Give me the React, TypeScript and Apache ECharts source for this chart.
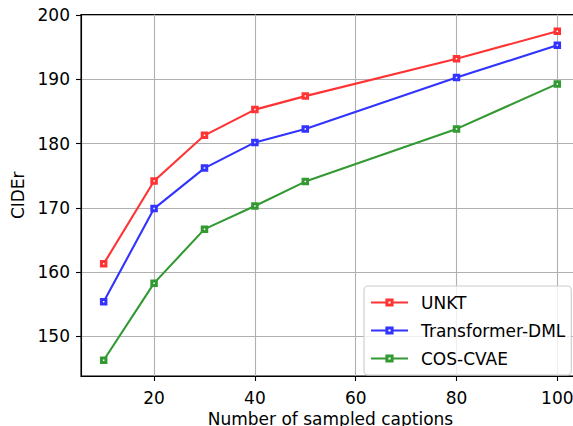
import React, { useEffect, useRef } from "react";
import * as echarts from "echarts";

const xValues = [10, 20, 30, 40, 50, 80, 100];
const unkt = [161.3, 174.2, 181.3, 185.3, 187.4, 193.2, 197.5];
const transformerDml = [155.4, 169.9, 176.2, 180.2, 182.3, 190.3, 195.3];
const cosCvae = [146.3, 158.3, 166.7, 170.3, 174.1, 182.3, 189.3];
const xTicks = [20, 40, 60, 80, 100];
const yTicks = [150, 160, 170, 180, 190, 200];
const seriesNames = ["UNKT", "Transformer-DML", "COS-CVAE"];
const seriesColors = ["#ff3333", "#3333ff", "#339933"];

const FONT = "DejaVu Sans";
const FS = 17;

export default function App() {
  const ref = useRef<HTMLDivElement>(null);
  useEffect(() => {
    if (!ref.current) return;
    document.body.style.margin = "0";
    const chart = echarts.init(ref.current, null, { renderer: "svg" });
    const allData = [unkt, transformerDml, cosCvae];
    const series = allData.map((vals, i) => ({
      name: seriesNames[i],
      type: "line",
      data: xValues.map((x, j) => [x, vals[j]]),
      symbol: "rect",
      symbolSize: 4.5,
      showSymbol: true,
      lineStyle: { color: seriesColors[i], width: 2.1 },
      itemStyle: { color: "#ffffff", borderColor: seriesColors[i], borderWidth: 3 },
      color: seriesColors[i],
      z: 3,
    }));
    chart.setOption({
      animation: false,
      backgroundColor: "#ffffff",
      textStyle: { fontFamily: FONT },
      grid: {
        left: 81,
        top: 14.5,
        width: 499,
        height: 361.5,
        show: true,
        borderColor: "#000000",
        borderWidth: 1.1,
        backgroundColor: "transparent",
        containLabel: false,
        outerBoundsMode: "none",
      },
      xAxis: {
        type: "value",
        min: 5.5,
        max: 104.5,
        name: "Number of sampled captions",
        nameLocation: "middle",
        nameGap: 32,
        nameTextStyle: { fontSize: FS, color: "#000", fontFamily: FONT },
        axisLine: { show: true, lineStyle: { color: "#000", width: 1.1 } },
        axisTick: { show: true, customValues: xTicks, length: 5, lineStyle: { color: "#000", width: 1.1 } },
        axisLabel: { customValues: xTicks, fontSize: FS, color: "#000", fontFamily: FONT, margin: 13 },
        splitLine: { show: true, lineStyle: { color: "#b0b0b0", width: 1.1 } },
      },
      yAxis: {
        type: "value",
        min: 143.85,
        max: 200.1,
        name: "CIDEr",
        nameLocation: "middle",
        nameGap: 52,
        nameTextStyle: { fontSize: FS, color: "#000", fontFamily: FONT },
        axisLine: { show: true, lineStyle: { color: "#000", width: 1.1 } },
        axisTick: { show: true, customValues: yTicks, length: 5, lineStyle: { color: "#000", width: 1.1 } },
        axisLabel: { customValues: yTicks, fontSize: FS, color: "#000", fontFamily: FONT, margin: 11 },
        splitLine: { show: true, lineStyle: { color: "#b0b0b0", width: 1.1 } },
      },
      legend: {
        orient: "vertical",
        left: 364,
        top: 286,
        data: seriesNames,
        itemWidth: 37,
        itemHeight: 6.5,
        itemGap: 11,
        padding: [8, 6, 8, 6],
        backgroundColor: "rgba(255,255,255,0.8)",
        borderColor: "#cccccc",
        borderWidth: 1.1,
        borderRadius: 4,
        itemStyle: { borderWidth: 3 },
        textStyle: { fontSize: FS, color: "#000", fontFamily: FONT, lineHeight: 14, padding: [0, 0, 0, 8] },
      },
      series,
    });
    return () => chart.dispose();
  }, []);
  return <div ref={ref} style={{ width: 573, height: 426 }} />;
}
